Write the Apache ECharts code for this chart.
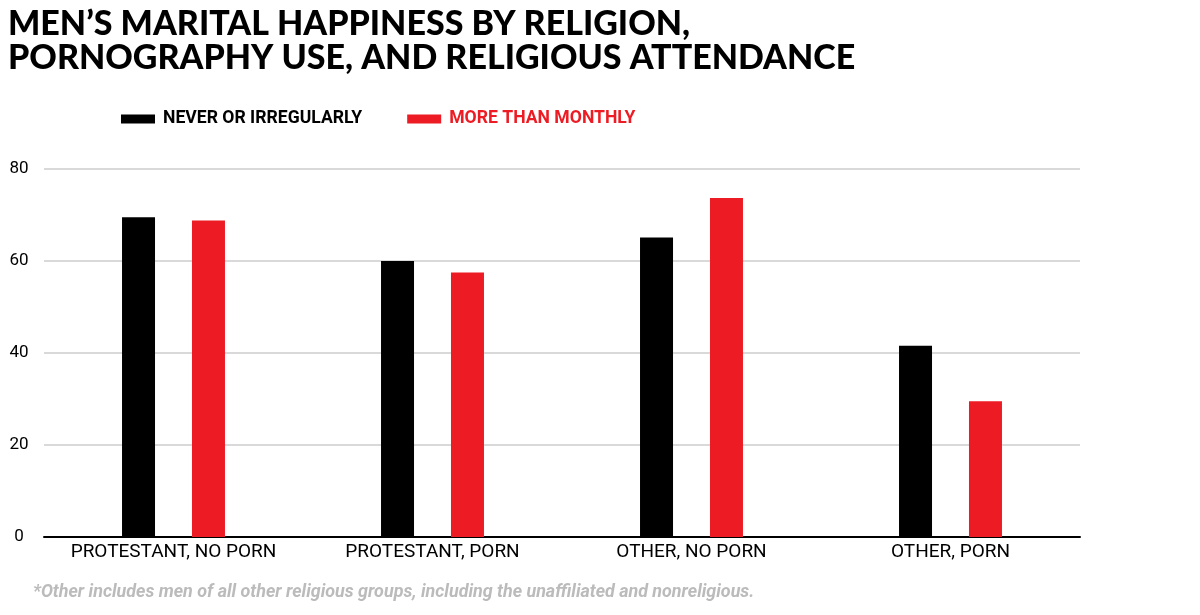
<!DOCTYPE html>
<html>
<head>
<meta charset="utf-8">
<script src="https://cdn.jsdelivr.net/npm/echarts@6/dist/echarts.min.js"></script>
<style>html,body{margin:0;padding:0;background:#fff}#c{width:1200px;height:615px}</style>
</head>
<body>
<div id="c"></div>
<script>
const categories = ["PROTESTANT, NO PORN", "PROTESTANT, PORN", "OTHER, NO PORN", "OTHER, PORN"];
const seriesNames = ["NEVER OR IRREGULARLY", "MORE THAN MONTHLY"];
const neverValues = [69.5, 60.0, 65.1, 41.6];
const monthlyValues = [68.8, 57.5, 73.7, 29.5];
const yTicks = [0, 20, 40, 60, 80];

const chart = echarts.init(document.getElementById('c'), null, {renderer: 'canvas'});
chart.setOption({
  animation: false,
  backgroundColor: '#fff',
  title: {
    text: "MEN\u2019S MARITAL HAPPINESS BY RELIGION,\nPORNOGRAPHY USE, AND RELIGIOUS ATTENDANCE",
    left: 3, top: 2,
    textStyle: {fontFamily: 'Lato', fontWeight: 900, fontSize: 34, lineHeight: 34, color: '#000'}
  },
  legend: {
    left: 116, top: 105,
    itemWidth: 34, itemHeight: 9, itemGap: 45,
    icon: 'rect',
    data: [
      {name: seriesNames[0], textStyle: {color: '#000'}},
      {name: seriesNames[1], textStyle: {color: '#ed1c24'}}
    ],
    textStyle: {fontFamily: 'Roboto', fontWeight: 'bold', fontSize: 17.6, padding: [0,0,0,3]}
  },
  grid: {left: 44, right: 120, top: 169, bottom: 78, containLabel: false},
  xAxis: {
    type: 'category',
    data: categories,
    axisLine: {lineStyle: {color: '#000', width: 2}},
    axisTick: {show: false},
    axisLabel: {color: '#000', fontFamily: 'Roboto', fontSize: 19, margin: 6, interval: 0}
  },
  yAxis: {
    type: 'value', min: yTicks[0], max: yTicks[yTicks.length-1], interval: 20,
    axisLine: {show: false}, axisTick: {show: false},
    splitLine: {lineStyle: {color: '#cccccc', width: 1.5}},
    axisLabel: {color: '#000', fontFamily: 'Roboto', fontSize: 17, align: 'center', margin: 25}
  },
  series: [
    {name: seriesNames[0], type: 'bar', data: neverValues, barWidth: 33, barGap: '112%', itemStyle: {color: '#000'}},
    {name: seriesNames[1], type: 'bar', data: monthlyValues, barWidth: 33, itemStyle: {color: '#ed1c24'}}
  ],
  graphic: [{
    type: 'text', left: 33, top: 584,
    style: {text: '*Other includes men of all other religious groups, including the unaffiliated and nonreligious.',
      fill: '#bbbbbb', font: 'italic bold 17.9px Roboto'}
  }]
});
</script>
</body>
</html>
